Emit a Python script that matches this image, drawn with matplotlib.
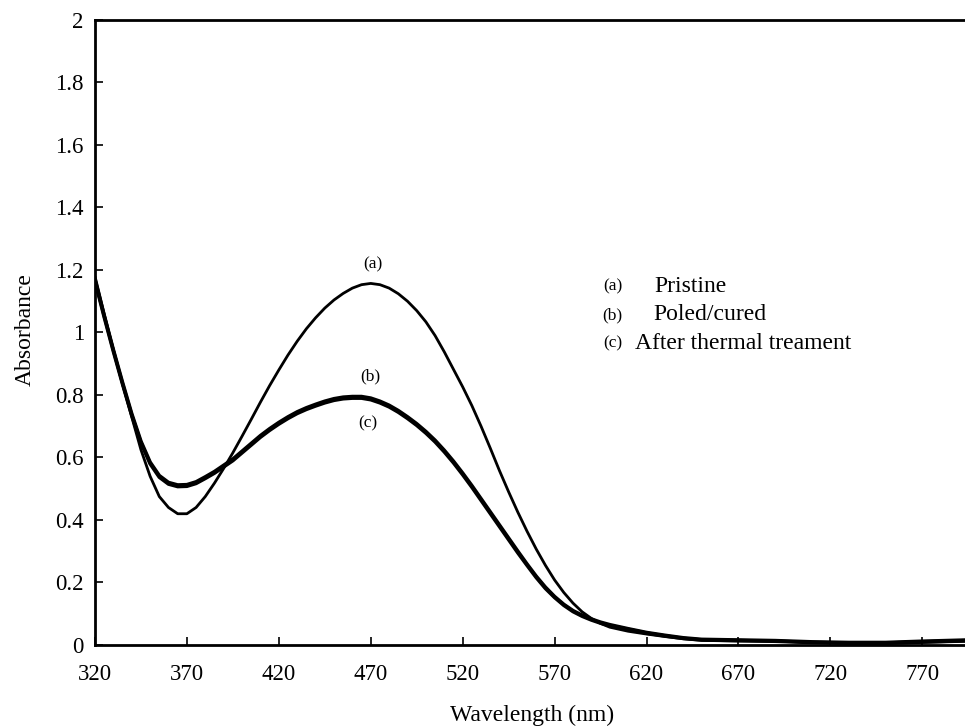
import matplotlib.pyplot as plt
import numpy as np

plt.rcParams['font.family'] = ['Liberation Serif', 'DejaVu Serif']

# wavelength grid (nm) and absorbance of the three films
wl = [320, 325, 330, 335, 340, 345, 350, 355, 360, 365, 370, 375, 380, 385, 390,
      395, 400, 405, 410, 415, 420, 425, 430, 435, 440, 445, 450, 455, 460, 465,
      470, 475, 480, 485, 490, 495, 500, 505, 510, 515, 520, 525, 530, 535, 540,
      545, 550, 555, 560, 565, 570, 575, 580, 585, 590, 595, 600, 610, 620, 630,
      640, 650, 670, 690, 710, 730, 750, 770, 795]

pristine = [1.18, 1.06, 0.945, 0.835, 0.73, 0.625, 0.54, 0.475, 0.44, 0.42, 0.42,
            0.44, 0.475, 0.518, 0.565, 0.615, 0.668, 0.722, 0.777, 0.83, 0.88, 0.928,
            0.972, 1.012, 1.047, 1.078, 1.104, 1.125, 1.142, 1.153, 1.157, 1.153, 1.142,
            1.124, 1.100, 1.070, 1.034, 0.99, 0.938, 0.882, 0.826, 0.766, 0.70, 0.63,
            0.558, 0.49, 0.425, 0.364, 0.307, 0.255, 0.208, 0.168, 0.134, 0.106, 0.085,
            0.069, 0.057, 0.044, 0.035, 0.027, 0.02, 0.015, 0.013, 0.012, 0.008,
            0.005, 0.005, 0.008, 0.012]

poled = [1.17, 1.055, 0.945, 0.84, 0.74, 0.652, 0.585, 0.542, 0.52, 0.512, 0.513,
         0.522, 0.538, 0.555, 0.575, 0.595, 0.62, 0.645, 0.67, 0.692, 0.712, 0.73,
         0.746, 0.759, 0.77, 0.78, 0.788, 0.793, 0.795, 0.795, 0.79, 0.78, 0.767,
         0.75, 0.73, 0.708, 0.683, 0.655, 0.623, 0.588, 0.55, 0.51, 0.468, 0.426,
         0.384, 0.342, 0.30, 0.259, 0.22, 0.185, 0.155, 0.13, 0.11, 0.095, 0.083,
         0.073, 0.065, 0.052, 0.04, 0.031, 0.023, 0.018, 0.016, 0.014, 0.01,
         0.008, 0.008, 0.012, 0.016]

thermal = [1.165, 1.05, 0.94, 0.835, 0.735, 0.647, 0.58, 0.537, 0.515, 0.507,
           0.508, 0.517, 0.533, 0.55, 0.57, 0.59, 0.615, 0.64, 0.665, 0.687, 0.707,
           0.725, 0.741, 0.754, 0.765, 0.775, 0.783, 0.788, 0.79, 0.79, 0.785, 0.775,
           0.762, 0.745, 0.725, 0.703, 0.678, 0.65, 0.618, 0.583, 0.545, 0.505,
           0.463, 0.421, 0.379, 0.337, 0.295, 0.255, 0.216, 0.181, 0.152, 0.127,
           0.107, 0.092, 0.08, 0.07, 0.062, 0.05, 0.038, 0.029, 0.021, 0.016,
           0.014, 0.012, 0.008, 0.006, 0.006, 0.01, 0.014]

xticks = [320, 370, 420, 470, 520, 570, 620, 670, 720, 770]
yticks = [0, 0.2, 0.4, 0.6, 0.8, 1, 1.2, 1.4, 1.6, 1.8, 2]
ytick_labels = ['0', '0.2', '0.4', '0.6', '0.8', '1', '1.2', '1.4', '1.6', '1.8', '2']

fig = plt.figure(figsize=(9.65, 7.27), dpi=100)
ax = fig.add_axes([0.0984, 0.1128, 0.905, 0.8597])

ax.plot(wl, pristine, color='black', lw=2.0, solid_capstyle='butt')
ax.plot(wl, poled, color='black', lw=2.6, solid_capstyle='butt')
ax.plot(wl, thermal, color='black', lw=2.6, solid_capstyle='butt')

ax.set_xlim(320, 795)
ax.set_ylim(0, 2)
ax.set_xticks(xticks)
ax.set_yticks(yticks)
ax.set_yticklabels(ytick_labels)
ax.tick_params(direction='in', length=6, width=1.2, labelsize=16.5)
ax.tick_params(axis='x', pad=14)
ax.tick_params(axis='y', pad=8)
ax.tick_params(top=False, right=False)

for s in ['left', 'bottom', 'top']:
    ax.spines[s].set_linewidth(2)
ax.spines['right'].set_visible(False)

ax.set_xlabel('Wavelength (nm)', fontsize=17, va='center')
ax.xaxis.set_label_coords(0.5, -0.112)
ax.set_ylabel('Absorbance', fontsize=17, va='center')
ax.yaxis.set_label_coords(-0.08, 0.505)

# curve tags
ax.text(471, 1.218, '(a)', fontsize=12.5, ha='center', va='center')
ax.text(469.5, 0.86, '(b)', fontsize=12.5, ha='center', va='center')
ax.text(468.5, 0.71, '(c)', fontsize=12.5, ha='center', va='center')

# key
names = ['Pristine', 'Poled/cured', 'After thermal treament']
name_x = [624.5, 623.5, 613.5]
tags = ['(a)', '(b)', '(c)']
for k in range(3):
    yy = 1.146 - k * 0.09
    ax.text(601.5, yy, tags[k], fontsize=12.5, ha='center', va='center')
    ax.text(name_x[k], yy, names[k], fontsize=17, ha='left', va='center')

fig.savefig('out.png', dpi=100)
